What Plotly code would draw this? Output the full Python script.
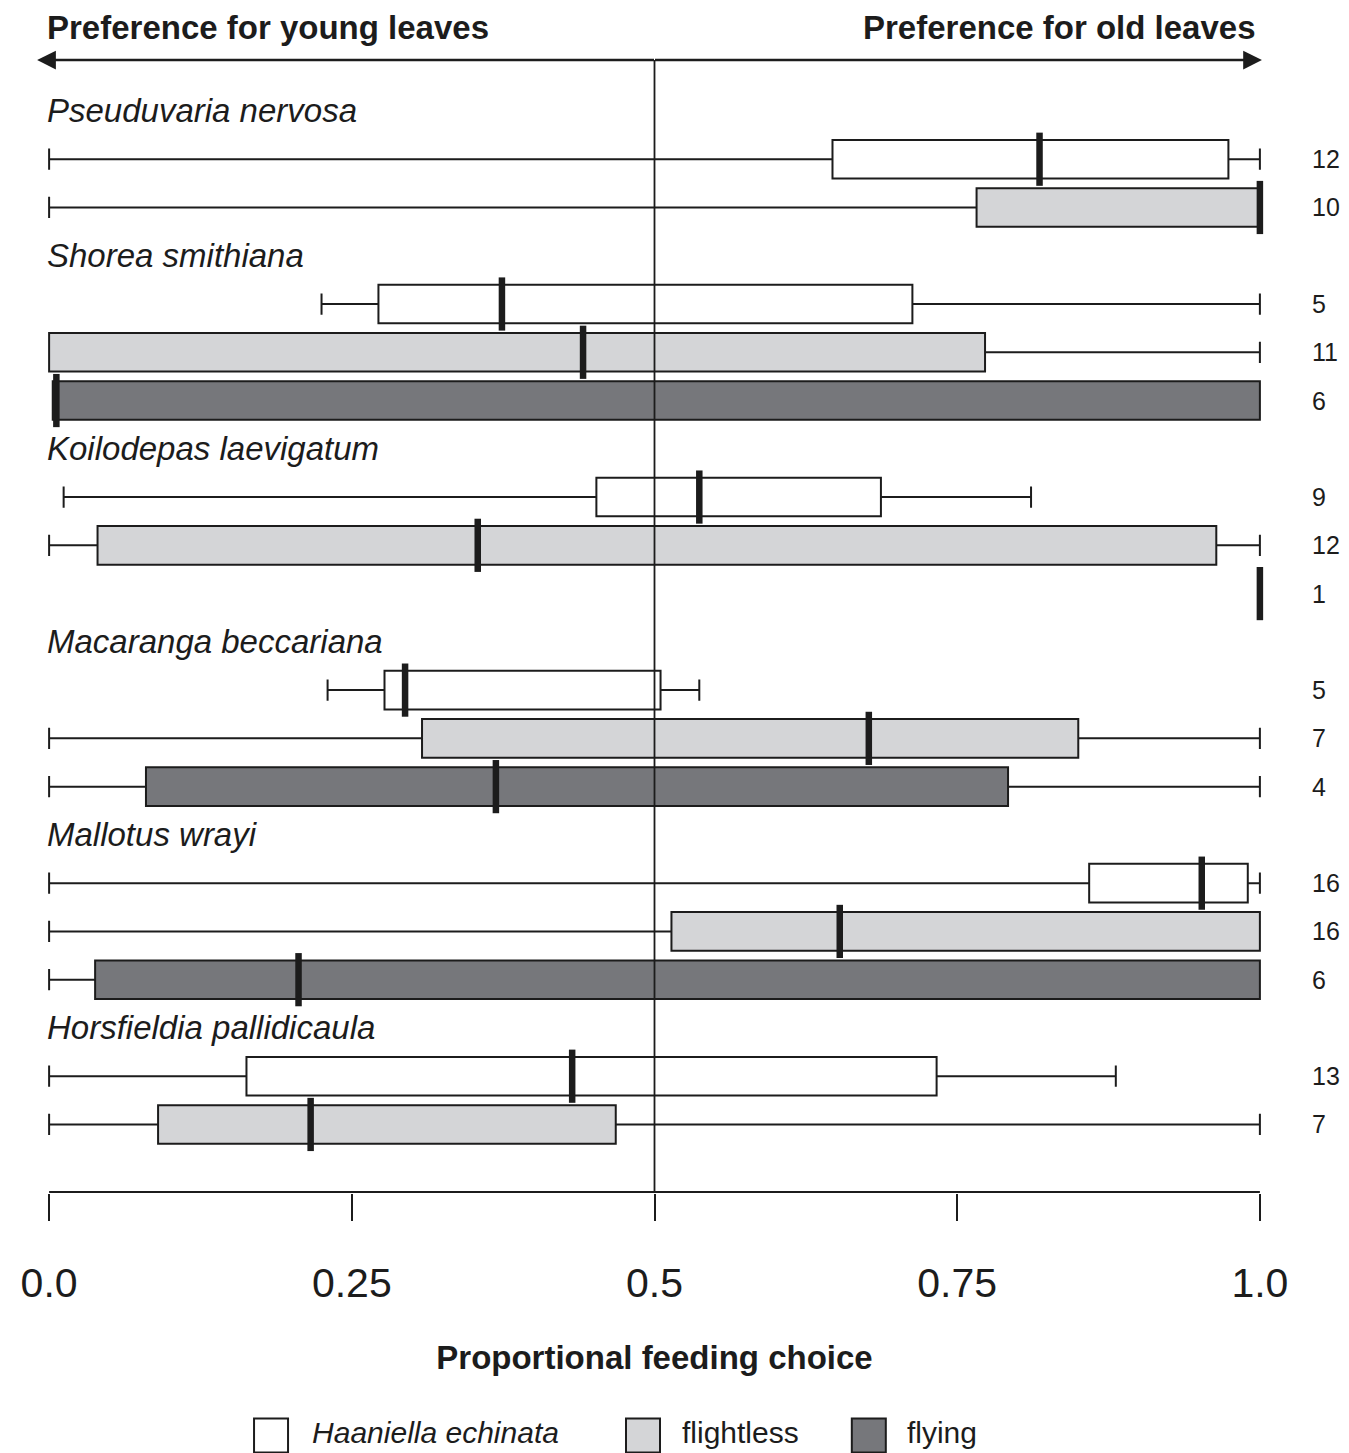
import plotly.graph_objects as go

# ---------------- data ----------------
species = ["Pseuduvaria nervosa", "Shorea smithiana", "Koilodepas laevigatum",
           "Macaranga beccariana", "Mallotus wrayi", "Horsfieldia pallidicaula"]
groups = ["Haaniella echinata", "flightless", "flying"]

# one entry per box row, top to bottom
row_species = [0, 0, 1, 1, 1, 2, 2, 2, 3, 3, 3, 4, 4, 4, 5, 5]
row_group = [0, 1, 0, 1, 2, 0, 1, 2, 0, 1, 2, 0, 1, 2, 0, 1]
lower = [0.0, 0.0, 0.225, 0.0, 0.003, 0.012, 0.0, 1.0, 0.230, 0.0, 0.0, 0.0, 0.0, 0.0, 0.0, 0.0]
q1 = [0.647, 0.766, 0.272, 0.0, 0.003, 0.452, 0.040, 1.0, 0.277, 0.308, 0.080, 0.859, 0.514, 0.038, 0.163, 0.090]
median = [0.818, 1.0, 0.374, 0.441, 0.006, 0.537, 0.354, 1.0, 0.294, 0.677, 0.369, 0.952, 0.653, 0.206, 0.432, 0.216]
q3 = [0.974, 1.0, 0.713, 0.773, 1.0, 0.687, 0.964, 1.0, 0.505, 0.850, 0.792, 0.990, 1.0, 1.0, 0.733, 0.468]
upper = [1.0, 1.0, 1.0, 1.0, 1.0, 0.811, 1.0, 1.0, 0.537, 1.0, 1.0, 1.0, 1.0, 1.0, 0.881, 1.0]
n_obs = [12, 10, 5, 11, 6, 9, 12, 1, 5, 7, 4, 16, 16, 6, 13, 7]

tick_vals = [0, 0.25, 0.5, 0.75, 1.0]
tick_text = ["0.0", "0.25", "0.5", "0.75", "1.0"]

# ---------------- styles ----------------
FONT = "Liberation Sans, Arial, Helvetica, sans-serif"
INK = "#1c1c1c"
fills = ["#ffffff", "#d4d5d7", "#76777b"]

W, H = 1341, 1445          # page body has an 8px margin
L, R, T, B = 29, 77, 52, 0
PLOT_H = H - T - B

# slot layout: each species label takes a slot, followed by its rows
row_slot = []
label_slot = []
slot = 0
prev = None
for s in row_species:
    if s != prev:
        label_slot.append(slot)
        slot += 1
        prev = s
    row_slot.append(slot)
    slot += 1

Y_TOP = -1.056
Y_BASE = 22.40
Y_BOT = 22.42

fig = go.Figure()

for g, gname in enumerate(groups):
    idx = [i for i in range(len(row_group)) if row_group[i] == g and n_obs[i] > 1]
    fig.add_trace(go.Box(
        name=gname,
        orientation="h",
        y=[row_slot[i] for i in idx],
        q1=[q1[i] for i in idx],
        median=[median[i] for i in idx],
        q3=[q3[i] for i in idx],
        lowerfence=[lower[i] for i in idx],
        upperfence=[upper[i] for i in idx],
        boxpoints=False,
        width=0.8,
        whiskerwidth=0.55,
        fillcolor=fills[g],
        line=dict(color=INK, width=2),
        showlegend=False,
        hoverinfo="skip",
    ))

# thick medians
fig.add_trace(go.Scatter(
    x=median, y=row_slot, mode="markers",
    marker=dict(symbol="line-ns", size=38, line=dict(width=6.5, color=INK)),
    cliponaxis=False, showlegend=False, hoverinfo="skip",
))

# vertical reference line at 0.5
fig.add_trace(go.Scatter(
    x=[0.5, 0.5], y=[Y_TOP, Y_BASE], mode="lines",
    line=dict(color=INK, width=1.8), showlegend=False, hoverinfo="skip",
))

# axis baseline from 0 to 1
fig.add_trace(go.Scatter(
    x=[0, 1], y=[Y_BASE, Y_BASE], mode="lines",
    line=dict(color=INK, width=2), showlegend=False, hoverinfo="skip",
))

# custom legend (bottom)
leg_x = [0.1833, 0.4905, 0.677]
leg_tx = [0.2172, 0.5227, 0.7085]
leg_text = ["<i>Haaniella echinata</i>", "flightless", "flying"]
LEG_Y = 0.21
fig.add_trace(go.Scatter(
    x=leg_x, y=[LEG_Y] * 3, mode="markers", xaxis="x2", yaxis="y2",
    marker=dict(symbol="square", size=34, color=fills, line=dict(color=INK, width=2)),
    cliponaxis=False, showlegend=False, hoverinfo="skip",
))
fig.add_trace(go.Scatter(
    x=leg_tx, y=[LEG_Y] * 3, mode="text", xaxis="x2", yaxis="y2",
    text=leg_text, textposition="middle right",
    textfont=dict(family=FONT, size=30, color=INK),
    cliponaxis=False, showlegend=False, hoverinfo="skip",
))

annotations = []
# species labels
for k, sp in enumerate(species):
    annotations.append(dict(
        x=-0.0035, y=label_slot[k], xref="x", yref="y", text=sp, showarrow=False,
        xanchor="left", yanchor="middle",
        font=dict(family=FONT, size=33, color=INK, style="italic"),
    ))
# n labels
N_X = (1302 - L) / (W - L - R)
for i, n in enumerate(n_obs):
    annotations.append(dict(
        x=N_X, y=row_slot[i], xref="paper", yref="y", text=str(n), showarrow=False,
        xanchor="left", yanchor="middle",
        font=dict(family=FONT, size=25, color=INK),
    ))
# header texts
HEAD_Y = (H - 19) / PLOT_H
annotations.append(dict(x=-0.0035, y=HEAD_Y, xref="x", yref="paper", text="<b>Preference for young leaves</b>",
                        showarrow=False, xanchor="left", yanchor="middle",
                        font=dict(family=FONT, size=33, color=INK)))
annotations.append(dict(x=0.9985, y=HEAD_Y, xref="x", yref="paper", text="<b>Preference for old leaves</b>",
                        showarrow=False, xanchor="right", yanchor="middle",
                        font=dict(family=FONT, size=33, color=INK)))
# double-headed arrow
for end in (-0.0099, 1.0017):
    annotations.append(dict(
        x=end, y=Y_TOP, ax=0.5, ay=Y_TOP, xref="x", yref="y", axref="x", ayref="y",
        text=" ", showarrow=True, arrowhead=2, arrowsize=1.5, arrowwidth=2.5,
        arrowcolor=INK, font=dict(size=1), borderpad=0, standoff=0, startstandoff=0,
    ))

fig.update_layout(
    width=W, height=H,
    margin=dict(l=L, r=R, t=T, b=B),
    paper_bgcolor="white", plot_bgcolor="white",
    boxmode="overlay",
    showlegend=False,
    font=dict(family=FONT, color=INK),
    annotations=annotations,
    xaxis=dict(
        range=[-0.01, 1.01], domain=[0, 1], anchor="y",
        showgrid=False, zeroline=False, showline=False,
        tickmode="array", tickvals=tick_vals, ticktext=tick_text,
        ticks="outside", ticklen=27, tickwidth=2, tickcolor=INK,
        tickfont=dict(family=FONT, size=41, color=INK),
        ticklabelstandoff=27,
        title=dict(text="<b>Proportional feeding choice</b>", standoff=40,
                   font=dict(family=FONT, size=33, color=INK)),
        fixedrange=True,
    ),
    yaxis=dict(
        range=[Y_BOT, Y_TOP], domain=[260 / PLOT_H, 1], anchor="x",
        visible=False, fixedrange=True,
    ),
    xaxis2=dict(range=[-0.01, 1.01], domain=[0, 1], anchor="y2", visible=False, fixedrange=True),
    yaxis2=dict(range=[0, 1], domain=[0, 0.06], anchor="x2", visible=False, fixedrange=True),
)

fig.write_html("out.html")
